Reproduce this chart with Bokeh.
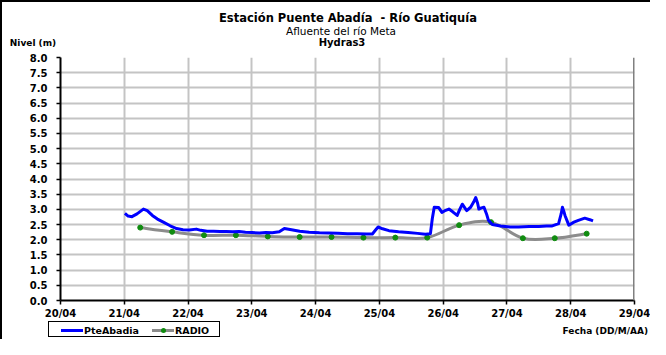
import numpy as np
from bokeh.plotting import figure
from bokeh.layouts import column
from bokeh.models import (FixedTicker, Range1d, NumeralTickFormatter, Span, Div)
from bokeh.embed import file_html
from bokeh.resources import INLINE

# ---------------- data ----------------
titulo = "Estación Puente Abadía  - Río Guatiquía"
subtitulo = "Afluente del río Meta"
subtitulo2 = "Hydras3"
eje_y = "Nivel (m)"
eje_x = "Fecha (DD/M/AA)"
series_names = ["PteAbadia", "RADIO"]

x_tick_labels = ["20/04", "21/04", "22/04", "23/04", "24/04",
                 "25/04", "26/04", "27/04", "28/04", "29/04"]
y_ticks = [0.0, 0.5, 1.0, 1.5, 2.0, 2.5, 3.0, 3.5, 4.0,
           4.5, 5.0, 5.5, 6.0, 6.5, 7.0, 7.5, 8.0]

# days since 20/04 00:00
pte_dias = [1.01, 1.06, 1.12, 1.20, 1.30, 1.36, 1.44, 1.52, 1.62, 1.72,
            1.82, 1.92, 2.02, 2.13, 2.20, 2.30, 2.40, 2.50, 2.60, 2.70,
            2.80, 2.90, 3.00, 3.12, 3.22, 3.32, 3.43, 3.51, 3.60, 3.75,
            3.90, 4.06, 4.20, 4.35, 4.50, 4.65, 4.80, 4.89, 4.94, 4.98,
            5.05, 5.15, 5.30, 5.45, 5.60, 5.72, 5.80, 5.83, 5.86, 5.93,
            5.98, 6.04, 6.09, 6.15, 6.22, 6.26, 6.30, 6.35, 6.37, 6.43,
            6.48, 6.51, 6.54, 6.56, 6.60, 6.64, 6.68, 6.71, 6.77, 6.90,
            7.05, 7.18, 7.35, 7.50, 7.62, 7.70, 7.81, 7.85, 7.87, 7.89,
            7.91, 7.97, 8.05, 8.12, 8.22, 8.30, 8.35]
pte_nivel = [2.87, 2.78, 2.76, 2.85, 3.01, 2.96, 2.80, 2.68, 2.57, 2.46,
             2.37, 2.33, 2.32, 2.35, 2.31, 2.28, 2.28, 2.27, 2.27, 2.26,
             2.27, 2.25, 2.24, 2.22, 2.24, 2.23, 2.26, 2.37, 2.34, 2.28,
             2.25, 2.23, 2.22, 2.21, 2.20, 2.20, 2.19, 2.19, 2.32, 2.42,
             2.36, 2.30, 2.26, 2.24, 2.21, 2.18, 2.20, 2.70, 3.07, 3.06,
             2.90, 2.97, 3.01, 2.92, 2.80, 3.00, 3.17, 3.02, 2.96, 3.07,
             3.25, 3.39, 3.20, 3.01, 3.05, 3.07, 2.85, 2.64, 2.50, 2.45,
             2.42, 2.42, 2.44, 2.44, 2.45, 2.45, 2.53, 2.85, 3.07, 2.95,
             2.80, 2.48, 2.58, 2.64, 2.71, 2.66, 2.62]

radio_dias = [1.25, 1.75, 2.25, 2.75, 3.25, 3.75, 4.25, 4.75,
              5.25, 5.75, 6.25, 6.75, 7.25, 7.75, 8.25]
radio_nivel = [2.40, 2.26, 2.15, 2.15, 2.11, 2.09, 2.09, 2.07,
               2.07, 2.07, 2.48, 2.58, 2.05, 2.05, 2.20]

# ---------------- styles ----------------
W = 648
H_TOP, H_MAIN, H_LEG = 49, 270, 18
FONT = "DejaVu Sans"
BLUE, GRAY, GREEN = "#0000ff", "#8c8c8c", "#108c10"

# ---------------- header (titles) ----------------
def txt(s, x, y, size, bold=True, anchor="-50%"):
    return (f'<span style="position:absolute;left:{x}px;top:{y}px;'
            f'transform:translate({anchor},-50%);white-space:pre;line-height:1;'
            f'font-size:{size};font-weight:{"bold" if bold else "normal"};">{s}</span>')

header_html = (f'<div style="position:relative;width:{W}px;height:{H_TOP}px;'
               f'font-family:\'{FONT}\';color:#000;">'
               + txt(titulo, 346, 16.5, "11.5px")
               + txt(subtitulo, 339, 29, "10.5px", bold=False)
               + txt(subtitulo2, 340, 41, "10px")
               + txt(eje_y, 31, 41, "9px")
               + '</div>')
header = Div(text=header_html, width=W, height=H_TOP,
             styles={"margin": "0", "padding": "0"})

# ---------------- main plot ----------------
p = figure(width=W, height=H_MAIN, output_backend="svg", toolbar_location=None,
           title=None,
           x_range=Range1d(0, len(x_tick_labels) - 1), y_range=Range1d(y_ticks[0], y_ticks[-1]),
           min_border_left=58, min_border_right=16, min_border_top=6, min_border_bottom=20,
           background_fill_color="white", border_fill_color="white")

p.xgrid.ticker = FixedTicker(ticks=list(range(len(x_tick_labels))))
p.ygrid.ticker = FixedTicker(ticks=y_ticks)
for g in (p.xgrid, p.ygrid):
    g.grid_line_color = "#c4c4c4"
    g.grid_line_width = 2
p.outline_line_color = None
p.add_layout(Span(location=len(x_tick_labels) - 1, dimension="height",
                  line_color="#808080", line_width=3))

p.xaxis.ticker = FixedTicker(ticks=list(range(len(x_tick_labels))))
p.xaxis.major_label_overrides = {i: t for i, t in enumerate(x_tick_labels)}
p.yaxis.ticker = FixedTicker(ticks=y_ticks)
p.yaxis.formatter = NumeralTickFormatter(format="0.0")
for ax in (p.xaxis, p.yaxis):
    ax.axis_line_color = "black"
    ax.axis_line_width = 2
    ax.major_tick_line_color = "black"
    ax.major_tick_line_width = 1.5
    ax.major_tick_out = 4
    ax.major_tick_in = 0
    ax.minor_tick_line_color = None
    ax.major_label_text_font = FONT
    ax.major_label_text_font_style = "bold"
    ax.major_label_text_font_size = "10px"
    ax.major_label_text_color = "black"
p.xaxis.major_label_standoff = 3
p.yaxis.major_label_standoff = 9

# smooth (Excel-like) curve through RADIO readings, drawn as bezier segments
rx = np.array(radio_dias)
ry = np.array(radio_nivel)
n = len(rx)
prev_i = np.r_[0, np.arange(n - 2)]
next_i = np.r_[np.arange(2, n), n - 1]
i0 = np.arange(n - 1)
i1 = i0 + 1
cx0 = rx[i0] + (rx[i1] - rx[prev_i]) / 6
cy0 = ry[i0] + (ry[i1] - ry[prev_i]) / 6
cx1 = rx[i1] - (rx[next_i] - rx[i0]) / 6
cy1 = ry[i1] - (ry[next_i] - ry[i0]) / 6
p.bezier(x0=rx[i0], y0=ry[i0], x1=rx[i1], y1=ry[i1], cx0=cx0, cy0=cy0,
         cx1=cx1, cy1=cy1, line_color=GRAY, line_width=3, line_cap="round")
p.scatter(radio_dias, radio_nivel, size=5, fill_color=GREEN, line_color=GREEN)
p.line(pte_dias, pte_nivel, line_color=BLUE, line_width=3, line_join="round")

# ---------------- legend row ----------------
def bar(x, color):
    return (f'<span style="position:absolute;left:{x}px;top:7px;width:22px;height:3px;'
            f'background:{color};"></span>')

legend_html = (
    f'<div style="position:relative;width:{W}px;height:{H_LEG}px;'
    f'font-family:\'{FONT}\';font-weight:bold;color:#000;">'
    f'<div style="position:absolute;left:46px;top:0px;width:172px;height:16px;'
    f'border:1.5px solid #000;background:#fff;">'
    + bar(12, BLUE)
    + f'<span style="position:absolute;left:35px;top:8.5px;transform:translateY(-50%);'
      f'line-height:1;font-size:9.5px;">{series_names[0]}</span>'
    + bar(103, GRAY)
    + f'<span style="position:absolute;left:112px;top:6px;width:5px;height:5px;'
      f'border-radius:50%;background:{GREEN};"></span>'
    + f'<span style="position:absolute;left:126px;top:8.5px;transform:translateY(-50%);'
      f'line-height:1;font-size:9.5px;">{series_names[1]}</span>'
    + '</div>'
    + f'<span style="position:absolute;right:2px;top:10px;transform:translateY(-50%);'
      f'line-height:1;font-size:9px;white-space:pre;">{eje_x}</span>'
    + '</div>')
footer = Div(text=legend_html, width=W, height=H_LEG,
             styles={"margin": "0", "padding": "0"})

layout = column(header, p, footer, spacing=0)
layout.styles = {"border-left": "2px solid black", "border-top": "2px solid black"}

open("out.html", "w").write(file_html(layout, INLINE))
